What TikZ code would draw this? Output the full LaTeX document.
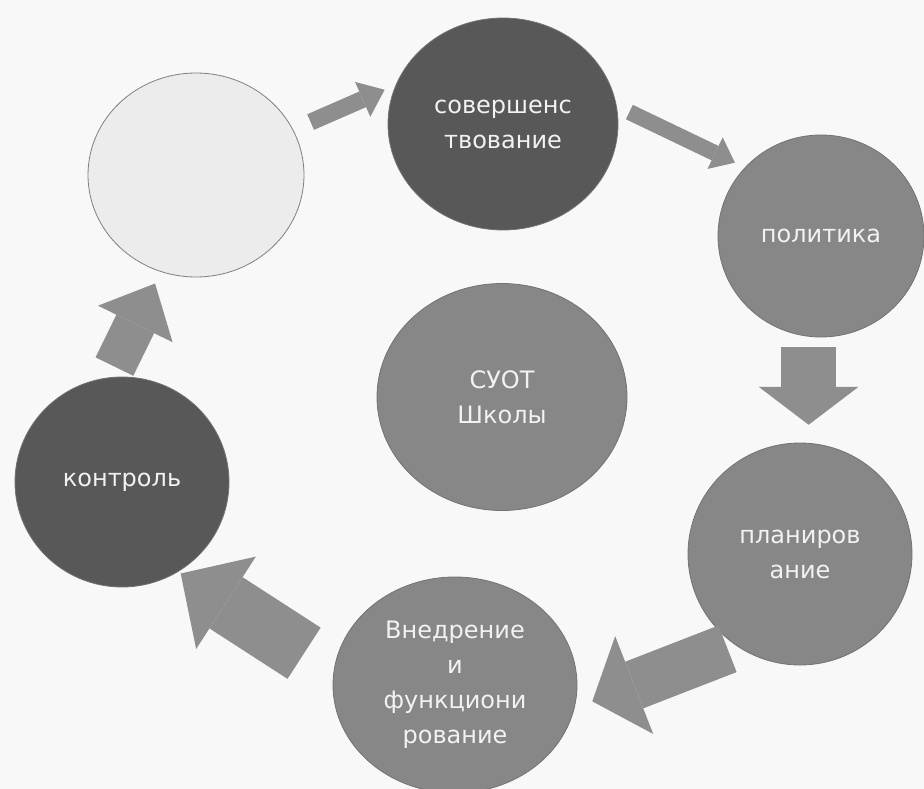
\documentclass[tikz,border=0pt]{standalone}
\usepackage{fontspec}
\setmainfont{DejaVu Sans}
\usetikzlibrary{shapes.geometric,arrows.meta}

\definecolor{paper}{HTML}{F8F8F8}
\definecolor{arrowgray}{HTML}{8E8E8E}
\definecolor{darkstage}{HTML}{585858}
\definecolor{midstage}{HTML}{878787}
\definecolor{palestage}{HTML}{ECECEC}

\begin{document}
\begin{tikzpicture}[x=1pt,y=-1pt,
  stage/.style={ellipse,inner sep=0pt,draw=black!55,line width=0.8pt,
    text=white!95!black,align=center,font=\fontsize{24}{35}\selectfont},
  blockarr/.style n args={3}{draw=arrowgray,line width=#1,
    -{Triangle[length=#2,width=#3,line width=0pt]}}]
  \fill[paper] (0,0) rectangle (924,789);
  \useasboundingbox (0,0) rectangle (924,789);
  % the cycle
  \node[stage,fill=palestage,draw=black!50,minimum width=216pt,minimum height=204pt] (empty) at (196,175) {};
  \node[stage,fill=darkstage,minimum width=230pt,minimum height=212pt] (perf) at (503,124) {совершенс\\твование};
  \node[stage,fill=midstage,minimum width=206pt,minimum height=202pt] (polit) at (821,236) {политика};
  \node[stage,fill=midstage,minimum width=224pt,minimum height=222pt] (plan) at (800,554) {планиров\\ание};
  \node[stage,fill=midstage,minimum width=244pt,minimum height=216pt] (impl) at (455,685) {Внедрение\\и\\функциони\\рование};
  \node[stage,fill=darkstage,minimum width=214pt,minimum height=210pt] (control) at (122,482) {контроль};
  % centre
  \node[stage,fill=midstage,minimum width=250pt,minimum height=227pt] (school) at (502,397) {СУОТ\\Школы};
  % arrows between stages
  \draw[blockarr={17pt}{24pt}{38pt},shorten <=19pt,shorten >=12pt] (empty.25) -- (perf.160);
  \draw[blockarr={16pt}{22pt}{35pt},shorten <=14pt,shorten >=11pt] (perf.9) -- (polit.138);
  \draw[blockarr={55pt}{38pt}{100pt},shorten <=10pt,shorten >=18pt] (polit.263) -- (polit.263 |- plan.87);
  \draw[blockarr={50pt}{45pt}{105pt},shorten <=9pt,shorten >=19pt] (plan.235) -- (impl.349);
  \draw[blockarr={61pt}{54pt}{110pt},shorten <=35pt,shorten >=3pt] (impl.174) -- (control.302);
  \draw[blockarr={42pt}{45pt}{83pt},shorten <=12pt,shorten >=13pt] (control.97) -- (empty.250);
\end{tikzpicture}
\end{document}
